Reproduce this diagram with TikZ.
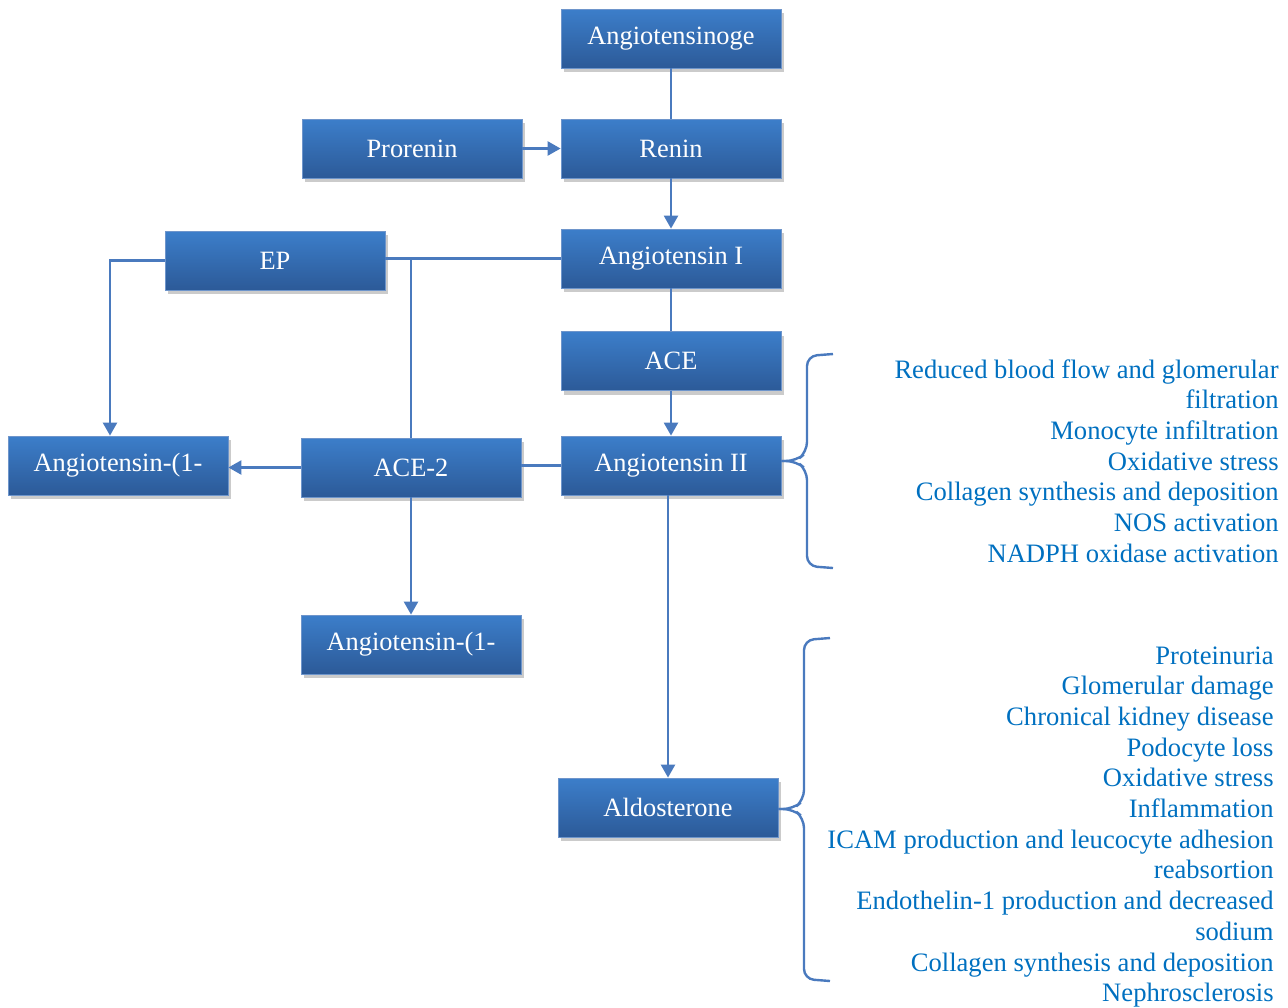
\documentclass[tikz,border=0pt]{standalone}
\usepackage{fontspec}
\setmainfont{Liberation Serif}
\usetikzlibrary{arrows.meta,shadows}
\definecolor{boxtop}{RGB}{60,126,202}
\definecolor{boxbot}{RGB}{44,90,152}
\definecolor{linec}{RGB}{74,122,190}
\definecolor{listc}{RGB}{0,112,192}

\tikzset{
  ras/.style={draw=linec!80!white,top color=boxtop,bottom color=boxbot,
    minimum width=110pt,minimum height=29.5pt,inner sep=0pt,text=white,
    font=\fontsize{13.2}{15.4}\selectfont,
    drop shadow={shadow xshift=1.5pt,shadow yshift=-2pt,fill=black!45,opacity=.45}},
  conn/.style={draw=linec,line width=1.2pt},
  tip/.style={-{Triangle[width=7pt,length=6.5pt]}},
  brc/.style={draw=linec,line width=1.2pt,rounded corners=5pt},
  effects/.style={text=listc,align=right,inner sep=0pt,font=\fontsize{13.3}{15.35}\selectfont}
}

\begin{document}
\begin{tikzpicture}[x=0.5pt,y=-0.5pt]
\useasboundingbox (0,0) rectangle (1288,1007);
% boxes
\node[ras] (ango) at (671,38.5) {Angiotensinoge};
\node[ras] (renin) at (671,148.5) {Renin};
\node[ras] (pro) at (412,148.5) {Prorenin};
\node[ras] (ang1) at (671,258.5) {Angiotensin I};
\node[ras] (ep) at (275,260.5) {EP};
\node[ras] (ace) at (671,361) {ACE};
\node[ras] (ang2) at (671,465.5) {Angiotensin II};
\node[ras] (ace2) at (411,467.5) {ACE-2};
\node[ras] (angl) at (118,465.5) {Angiotensin-(1-};
\node[ras] (angb) at (411,644.5) {Angiotensin-(1-};
\node[ras] (aldo) at (668,807.5) {Aldosterone};
% links
\draw[conn] (ango) -- (renin);
\draw[conn,tip] (pro) -- (renin);
\draw[conn,tip] (renin) -- (ang1);
\draw[conn] (ang1) -- (ace);
\draw[conn,tip] (ace) -- (ang2);
\draw[conn,tip] (ang2.south -| aldo.north) -- (aldo.north);
\coordinate (j1) at (ace2.north |- ang1.west);
\draw[conn] (ang1.west) -- (ang1.west -| ep.east);
\draw[conn] (j1) -- (ace2.north);
\draw[conn,tip] (ep.west) -| ([xshift=-4pt]angl.north);
\draw[conn,tip] (ace2.west) -- (ace2.west -| angl.east);
\draw[conn] (ang2.west) -- (ang2.west -| ace2.east);
\draw[conn,tip] (ace2) -- (angb);
% braces
\draw[brc] (833,354) -- (807,356) -- (807,452) -- (796,461) -- (ang2.east |- 0,461);
\draw[brc] (ang2.east |- 0,461) -- (796,461) -- (807,470) -- (807,566) -- (833,568);
\draw[brc] (830,638) -- (804,640) -- (804,800) -- (793,809) -- (aldo.east |- 0,809);
\draw[brc] (aldo.east |- 0,809) -- (793,809) -- (804,818) -- (804,979) -- (830,981);
% effects
\node[effects,anchor=north east] (eff2) at (1279,359) {Reduced blood flow and glomerular\\filtration\\Monocyte infiltration\\Oxidative stress\\Collagen synthesis and deposition\\NOS activation\\NADPH oxidase activation};
\node[effects,anchor=north east] (effaldo) at (1274,646) {Proteinuria\\Glomerular damage\\Chronical kidney disease\\Podocyte loss\\Oxidative stress\\Inflammation\\ICAM production and leucocyte adhesion\\reabsortion\\Endothelin-1 production and decreased\\sodium\\Collagen synthesis and deposition\\Nephrosclerosis};
\end{tikzpicture}
\end{document}
